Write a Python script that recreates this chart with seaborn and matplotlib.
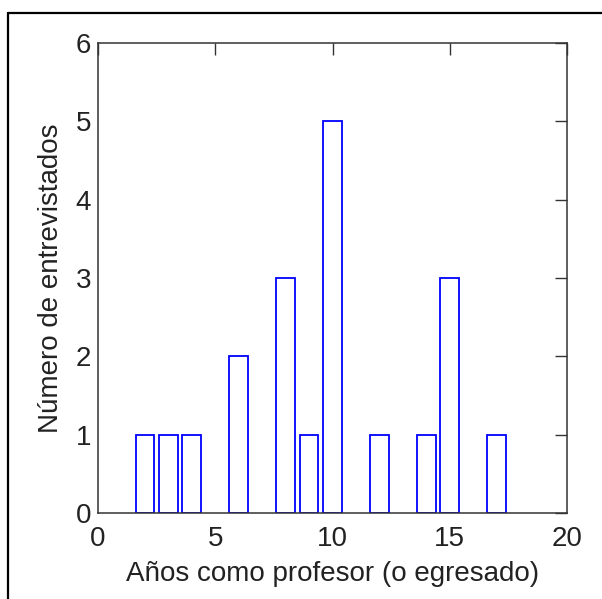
import matplotlib
matplotlib.use("Agg")
import matplotlib.pyplot as plt
import seaborn as sns
import pandas as pd
from matplotlib.lines import Line2D

# Data
years = [2, 3, 4, 6, 8, 9, 10, 12, 14, 15, 17]
counts = [1, 1, 1, 2, 3, 1, 5, 1, 1, 3, 1]
x_ticks = [0, 5, 10, 15, 20]
y_ticks = [0, 1, 2, 3, 4, 5, 6]

sns.set_theme(style="white")
plt.rcParams["font.family"] = ["Liberation Sans", "DejaVu Sans"]

df = pd.DataFrame({"anos": years, "n": counts})

fig = plt.figure(figsize=(6.02, 5.99), dpi=100)
ax = fig.add_axes([98 / 602, 86 / 599, 469 / 602, 470 / 599])

sns.barplot(
    data=df, x="anos", y="n", native_scale=True, width=0.8,
    fill=False, color="#0000FF", linewidth=1.3, errorbar=None, ax=ax,
)

ax.set_xlim(0, 20)
ax.set_ylim(0, 6)
ax.set_xticks(x_ticks)
ax.set_yticks(y_ticks)
ax.tick_params(direction="in", length=8.5, width=1.0, color="#333333",
               labelcolor="#222222", top=True, right=True, labelsize=20)
ax.tick_params(axis="x", pad=9)
ax.tick_params(axis="y", pad=5)
for s in ax.spines.values():
    s.set_color("#333333")
    s.set_linewidth(1.1)
    s.set_zorder(5)
ax.set_xlabel("Años como profesor (o egresado)", fontsize=20, labelpad=7,
              color="#222222")
ax.set_ylabel("Número de entrevistados", fontsize=20, labelpad=8,
              color="#222222")

# outer frame (top and left edges visible in the crop)
fig.add_artist(Line2D([7.5 / 602, 7.5 / 602], [0, 1 - 12.5 / 599],
                      transform=fig.transFigure, color="black", lw=1.6))
fig.add_artist(Line2D([7.5 / 602, 1], [1 - 12.5 / 599, 1 - 12.5 / 599],
                      transform=fig.transFigure, color="black", lw=1.6))

fig.savefig("out.png", dpi=100)
